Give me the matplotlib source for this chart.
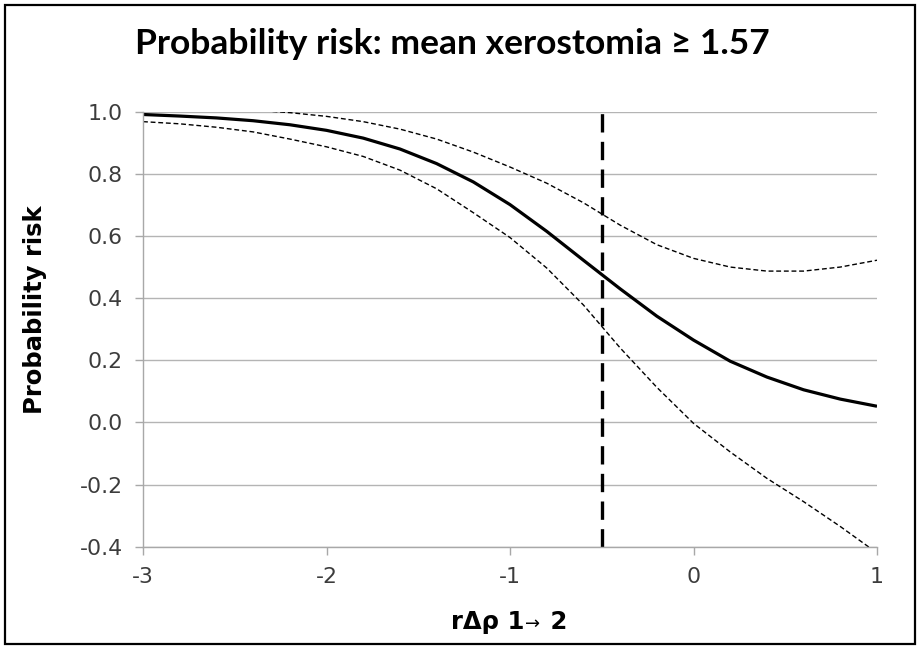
import matplotlib
matplotlib.use("Agg")
import matplotlib.pyplot as plt
from matplotlib.patches import Rectangle
from matplotlib.offsetbox import TextArea, HPacker, AnnotationBbox

# ---- data ----
x_vals = [-3.0, -2.8, -2.6, -2.4, -2.2, -2.0, -1.8, -1.6, -1.4, -1.2, -1.0,
          -0.8, -0.6, -0.4, -0.2, 0.0, 0.2, 0.4, 0.6, 0.8, 1.0]
risk_mean = [0.991, 0.986, 0.980, 0.971, 0.958, 0.940, 0.915, 0.880, 0.833,
             0.774, 0.701, 0.615, 0.522, 0.430, 0.342, 0.265, 0.197, 0.146,
             0.105, 0.075, 0.052]
risk_upper = [1.030, 1.025, 1.015, 1.005, 0.997, 0.985, 0.968, 0.944, 0.912,
              0.870, 0.822, 0.770, 0.707, 0.635, 0.572, 0.528, 0.500, 0.487,
              0.487, 0.500, 0.522]
risk_lower = [0.968, 0.961, 0.950, 0.935, 0.912, 0.887, 0.856, 0.812, 0.752,
              0.675, 0.595, 0.497, 0.378, 0.240, 0.113, -0.003, -0.095, -0.180,
              -0.255, -0.335, -0.420]
threshold_x = -0.5
x_ticks = [-3, -2, -1, 0, 1]
y_ticks = [-0.4, -0.2, 0.0, 0.2, 0.4, 0.6, 0.8, 1.0]
y_ticklabels = ["-0.4", "-0.2", "0.0", "0.2", "0.4", "0.6", "0.8", "1.0"]
title = "Probability risk: mean xerostomia \u2265 1.57"
ylabel = "Probability risk"

W, H = 919, 649
fig = plt.figure(figsize=(W / 100, H / 100), dpi=100)
fig.patch.set_facecolor("white")

ax = fig.add_axes([143 / W, 1 - 546.7 / H, (877 - 143) / W, (546.7 - 111.7) / H])
ax.set_xlim(-3, 1)
ax.set_ylim(-0.4, 1.0)

grid_c = "#b4b4b4"
ax.set_yticks(y_ticks)
ax.set_yticklabels(y_ticklabels)
ax.set_xticks(x_ticks)
ax.set_xticklabels([str(t) for t in x_ticks])
ax.yaxis.grid(True, color=grid_c, lw=1.0)
ax.set_axisbelow(True)
for s in ["top", "right"]:
    ax.spines[s].set_visible(False)
for s in ["left", "bottom"]:
    ax.spines[s].set_color("#a8a8a8")
    ax.spines[s].set_linewidth(1.0)
ax.tick_params(axis="both", direction="out", length=5.5, width=1.0,
               color="#a8a8a8", labelsize=15.8, labelcolor="#3c3c3c", pad=9)

ax.plot(x_vals, risk_upper, color="black", lw=1.0, linestyle=(0, (3.5, 2.0)))
ax.plot(x_vals, risk_lower, color="black", lw=1.0, linestyle=(0, (3.5, 2.0)))
ax.plot(x_vals, risk_mean, color="black", lw=2.3, solid_capstyle="butt")
ax.axvline(threshold_x, color="black", lw=2.4, linestyle=(0, (5.5, 2.8)))

# title
fig.text(452 / W, 1 - 43.5 / H, title, ha="center", va="center",
         fontsize=25.5, fontweight="bold", family=["Lato", "DejaVu Sans"])

# y label
fig.text(35 / W, 1 - 310 / H, ylabel, rotation=90, ha="center", va="center",
         fontsize=17.5, fontweight="bold", color="black")

# x label with mixed weights
t1 = TextArea("r\u0394\u03c1 1", textprops=dict(fontsize=17.5, fontweight="bold", color="black"))
t2 = TextArea("\u2192", textprops=dict(fontsize=13, color="black"))
t3 = TextArea(" 2", textprops=dict(fontsize=17.5, fontweight="bold", color="black"))
box = HPacker(children=[t1, t2, t3], align="baseline", pad=0, sep=1)
ab = AnnotationBbox(box, (509 / W, 1 - 621.7 / H), xycoords="figure fraction",
                    frameon=False, box_alignment=(0.5, 0.5))
fig.add_artist(ab)

# outer border
fig.add_artist(Rectangle((5 / W, 5 / H), 910 / W, 639 / H, transform=fig.transFigure,
                         fill=False, edgecolor="black", lw=1.6))

fig.savefig("out.png", dpi=100)
